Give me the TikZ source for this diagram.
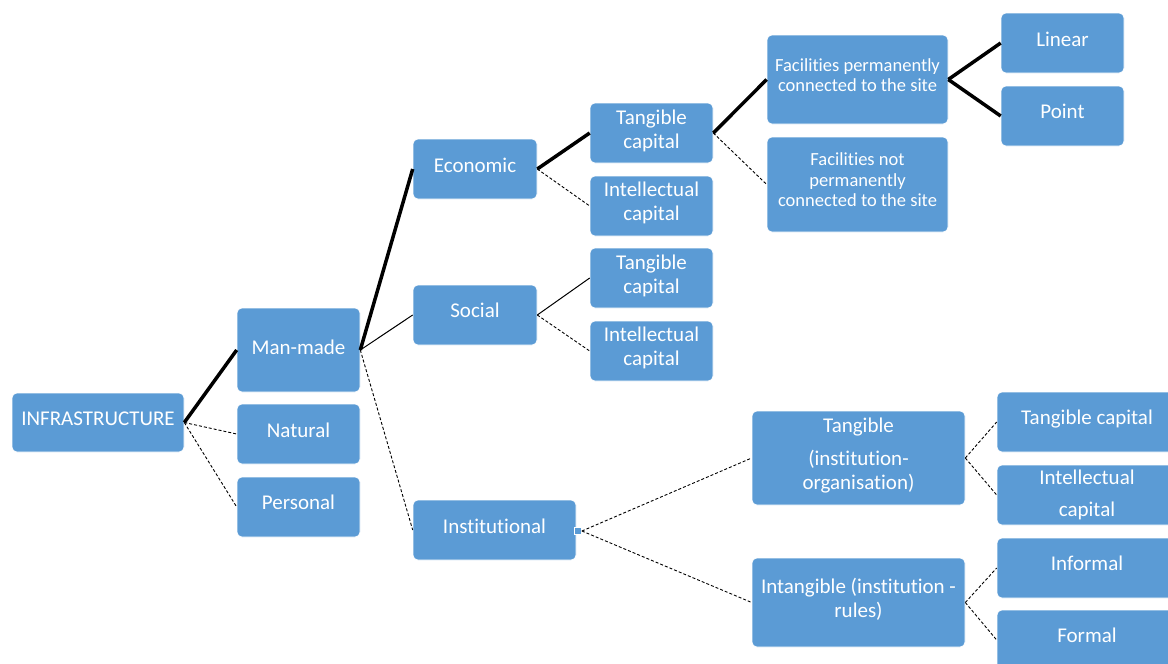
\documentclass[tikz,border=0pt]{standalone}
\usepackage{fontspec}
\setmainfont{Carlito}[Ligatures=NoCommon]
\definecolor{boxblue}{HTML}{5B9BD5}
\tikzset{
  box/.style={fill=boxblue, draw=white, line width=0.6pt, rounded corners=5pt, inner sep=0pt},
  txt/.style={text=white, align=center, inner sep=0pt, font=\fontsize{21}{24}\selectfont},
  smalltxt/.style={txt, font=\fontsize{18.5}{20.5}\selectfont},
  strong/.style={line width=3.5pt},
  weak/.style={line width=1pt},
  dashline/.style={line width=0.9pt, dash pattern=on 3pt off 2pt},
  handle/.style={fill=boxblue, draw=white, line width=0.8pt, minimum size=7pt, inner sep=0pt}
}
\begin{document}
\begin{tikzpicture}[x=1pt, y=-1pt]
\clip (0,0) rectangle (1168,664);
\fill[white] (0,0) rectangle (1168,664);
% column 1
\node[box, minimum width=172pt, minimum height=59pt] (infra) at (98,422.5) {};
\node[txt] (infra-t) at ([yshift=4pt]infra.center) {INFRASTRUCTURE};
% column 2
\node[box, minimum width=123pt, minimum height=84pt] (manmade) at (298.5,350) {};
\node[txt] (manmade-t) at ([yshift=3pt]manmade.center) {Man-made};
\node[box, minimum width=123pt, minimum height=60pt] (natural) at (298.5,434) {};
\node[txt] (natural-t) at ([yshift=4pt]natural.center) {Natural};
\node[box, minimum width=123pt, minimum height=60pt] (personal) at (298.5,507) {};
\node[txt] (personal-t) at ([yshift=5pt]personal.center) {Personal};
% column 3
\node[box, minimum width=124pt, minimum height=60pt] (economic) at (475,169) {};
\node[txt] (economic-t) at ([yshift=4pt]economic.center) {Economic};
\node[box, minimum width=124pt, minimum height=60pt] (social) at (475,315) {};
\node[txt] (social-t) at ([yshift=5pt]social.center) {Social};
\node[box, minimum width=163pt, minimum height=60pt] (institutional) at (494.5,530) {};
\node[txt] (institutional-t) at ([yshift=4pt]institutional.center) {Institutional};
\node[handle] (h) at (578,531) {};
% column 4
\node[box, minimum width=123pt, minimum height=60pt] (etc) at (651.5,133) {};
\node[txt] (etc-t) at ([yshift=2pt]etc.center) {Tangible\\capital};
\node[box, minimum width=123pt, minimum height=60pt] (eic) at (651.5,206) {};
\node[txt] (eic-t) at ([yshift=3pt]eic.center) {Intellectual\\capital};
\node[box, minimum width=123pt, minimum height=60pt] (stc) at (651.5,278) {};
\node[txt] (stc-t) at ([yshift=2pt]stc.center) {Tangible\\capital};
\node[box, minimum width=123pt, minimum height=60pt] (sic) at (651.5,351) {};
\node[txt] (sic-t) at ([yshift=3pt]sic.center) {Intellectual\\capital};
% column 5
\node[box, minimum width=181pt, minimum height=89pt] (fperm) at (857.5,79.5) {};
\node[smalltxt] (fperm-t) at ([yshift=4.5pt]fperm.center) {Facilities permanently\\connected to the site};
\node[box, minimum width=181pt, minimum height=95pt] (fnot) at (857.5,184.5) {};
\node[smalltxt] (fnot-t) at ([yshift=4.5pt]fnot.center) {Facilities not\\permanently\\connected to the site};
\node[box, minimum width=213pt, minimum height=94pt] (tinst) at (858.5,458) {};
\node[txt] (tinst-t) at ([yshift=2pt]tinst.center) {Tangible\\[9pt](institution-\\organisation)};
\node[box, minimum width=213pt, minimum height=89pt] (iinst) at (858.5,602.5) {};
\node[txt] (iinst-t) at ([yshift=3pt]iinst.center) {Intangible (institution -\\rules)};
% column 6
\node[box, minimum width=123pt, minimum height=60pt] (linear) at (1062.5,43) {};
\node[txt] (linear-t) at ([yshift=3.5pt]linear.center) {Linear};
\node[box, minimum width=123pt, minimum height=60pt] (point) at (1062.5,116) {};
\node[txt] (point-t) at ([yshift=5pt]point.center) {Point};
\node[box, minimum width=180pt, minimum height=60pt] (rtc) at (1087,422) {};
\node[txt] (rtc-t) at ([yshift=2.5pt]rtc.center) {Tangible capital};
\node[box, minimum width=180pt, minimum height=60pt] (ric) at (1087,495) {};
\node[txt] (ric-t) at (ric.center) {Intellectual\\[8pt]capital};
\node[box, minimum width=180pt, minimum height=60pt] (informal) at (1087,568) {};
\node[txt] (informal-t) at ([yshift=5pt]informal.center) {Informal};
\node[box, minimum width=180pt, minimum height=60pt] (formal) at (1087,640) {};
\node[txt] (formal-t) at ([yshift=5pt]formal.center) {Formal};
% connectors
\draw[strong] (infra.east) -- (manmade.west);
\draw[dashline] (infra.east) -- (natural.west);
\draw[dashline] (infra.east) -- (personal.west);
\draw[strong] (manmade.east) -- (economic.west);
\draw[weak] (manmade.east) -- (social.west);
\draw[dashline] (manmade.east) -- (institutional.west);
\draw[strong] (economic.east) -- (etc.west);
\draw[dashline] (economic.east) -- (eic.west);
\draw[weak] (social.east) -- (stc.west);
\draw[dashline] (social.east) -- (sic.west);
\draw[strong] (etc.east) -- (fperm.west);
\draw[dashline] (etc.east) -- (fnot.west);
\draw[strong] (fperm.east) -- (linear.west);
\draw[strong] (fperm.east) -- (point.west);
\draw[dashline] (h.east) -- (tinst.west);
\draw[dashline] (h.east) -- (iinst.west);
\draw[dashline] (tinst.east) -- (rtc.west);
\draw[dashline] (tinst.east) -- (ric.west);
\draw[dashline] (iinst.east) -- (informal.west);
\draw[dashline] (iinst.east) -- (formal.west);
\end{tikzpicture}
\end{document}
